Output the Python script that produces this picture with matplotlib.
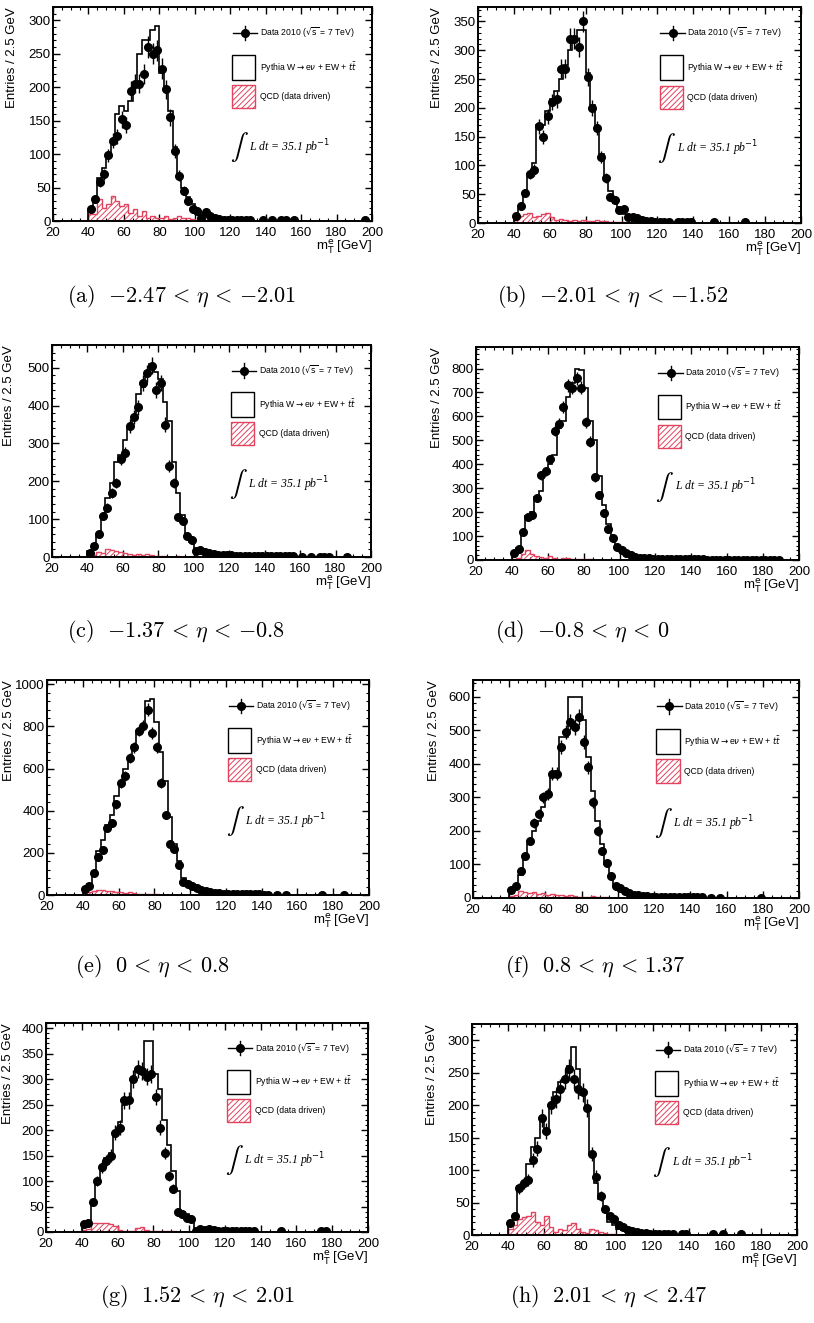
import matplotlib
matplotlib.use('Agg')
import matplotlib.pyplot as plt
from matplotlib.patches import Rectangle
from matplotlib.ticker import MultipleLocator
import numpy as np

plt.rcParams['font.family'] = ['Liberation Sans', 'DejaVu Sans']
plt.rcParams['hatch.linewidth'] = 0.7

# bins of 2.5 GeV starting at 40 GeV (32 bins up to 120 GeV)
bin_lo = 40.0
bin_w = 2.5

# (a) -2.47 < eta < -2.01
mc_a = [15, 35, 65, 80, 100, 120, 160, 172, 165, 180, 200, 250, 270, 270, 285, 292,
        222, 200, 165, 110, 70, 50, 36, 25, 16, 10, 7, 5, 4, 3, 2, 2]
data_a = [18, 33, 58, 70, 98, 120, 127, 152, 143, 195, 205, 205, 220, 260, 250, 255,
          228, 197, 155, 105, 68, 45, 30, 18, 15, 5, 13, 8, 4, 3, 2, 1]
qcd_a = [10, 10, 33, 20, 25, 37, 30, 22, 25, 12, 18, 8, 15, 5, 7, 5,
         5, 8, 3, 5, 8, 5, 4, 3, 2, 1, 1, 0, 0, 0, 0, 0]
tailx_a = [121.25, 123.75, 126.25, 128.75, 131.25, 138.75, 143.75, 148.75, 151.25, 156.25, 196.25]
taily_a = [1, 1, 1, 1, 1, 1, 1, 1, 1, 1, 1]

# (b) -2.01 < eta < -1.52
mc_b = [8, 25, 50, 85, 105, 170, 170, 195, 215, 230, 250, 275, 300, 320, 335, 335,
        260, 205, 165, 120, 80, 55, 35, 25, 16, 10, 7, 5, 4, 3, 2, 2]
data_b = [12, 30, 52, 85, 92, 168, 150, 185, 210, 215, 268, 268, 320, 320, 305, 350,
          253, 200, 165, 115, 78, 45, 40, 22, 25, 10, 10, 8, 5, 3, 3, 2]
qcd_b = [5, 12, 15, 17, 10, 12, 15, 18, 10, 5, 7, 5, 3, 5, 4, 5,
         3, 3, 5, 3, 4, 2, 1, 1, 1, 0, 0, 0, 0, 0, 0, 0]
tailx_b = [121.25, 123.75, 126.25, 131.25, 133.75, 136.25, 138.75, 151.25, 168.75]
taily_b = [2, 2, 1, 1, 1, 1, 1, 1, 1]

# (c) -1.37 < eta < -0.8
mc_c = [15, 35, 60, 110, 155, 195, 250, 270, 310, 345, 365, 430, 450, 490, 510, 490,
        470, 410, 360, 250, 170, 110, 60, 40, 20, 12, 10, 7, 5, 4, 3, 3]
data_c = [10, 30, 62, 108, 130, 170, 195, 258, 275, 345, 370, 395, 460, 485, 505, 440,
          460, 350, 240, 195, 105, 95, 55, 45, 15, 18, 12, 10, 8, 6, 5, 4]
qcd_c = [3, 5, 12, 10, 22, 18, 15, 12, 10, 8, 6, 8, 5, 8, 4, 3,
         2, 2, 1, 1, 2, 1, 1, 0, 0, 0, 0, 0, 0, 0, 0, 0]
tailx_c = [121.25, 123.75, 126.25, 128.75, 131.25, 133.75, 136.25, 138.75, 141.25, 143.75, 146.25,
           148.75, 151.25, 153.75, 156.25, 161.25, 166.25, 171.25, 173.75, 176.25, 186.25]
taily_c = [4, 3, 3, 3, 3, 2, 2, 3, 2, 2, 2, 2, 2, 2, 2, 1, 1, 1, 1, 1, 1]

# (d) -0.8 < eta < 0
mc_d = [30, 50, 120, 185, 200, 265, 290, 360, 400, 440, 550, 580, 680, 740, 800, 795,
        720, 580, 500, 350, 230, 150, 90, 55, 35, 20, 15, 10, 8, 6, 5, 4]
data_d = [30, 45, 115, 180, 190, 260, 355, 370, 420, 540, 570, 640, 730, 720, 760, 720,
          575, 495, 345, 270, 195, 130, 90, 55, 42, 28, 20, 12, 10, 8, 8, 6]
qcd_d = [5, 10, 25, 40, 25, 15, 12, 10, 15, 8, 6, 10, 8, 6, 5, 4,
         3, 3, 2, 2, 2, 1, 1, 1, 0, 0, 0, 0, 0, 0, 0, 0]
tailx_d = [121.25, 123.75, 126.25, 128.75, 131.25, 133.75, 136.25, 138.75, 141.25, 143.75,
           146.25, 148.75, 151.25, 153.75, 156.25, 158.75, 161.25, 163.75, 166.25, 168.75,
           171.25, 173.75, 176.25, 178.75, 181.25, 183.75, 186.25, 188.75]
taily_d = [5, 5, 4, 4, 4, 3, 3, 3, 3, 3, 3, 2, 2, 2, 2, 2, 2, 2, 2, 2, 2, 1, 1, 1, 1, 1, 1, 1]

# (e) 0 < eta < 0.8
mc_e = [30, 50, 110, 210, 260, 330, 380, 470, 520, 600, 650, 710, 780, 800, 920, 930,
        820, 680, 540, 370, 240, 160, 80, 60, 40, 25, 18, 12, 10, 8, 6, 5]
data_e = [30, 45, 105, 180, 215, 320, 340, 430, 530, 565, 650, 700, 780, 800, 880, 770,
          700, 530, 380, 240, 220, 140, 60, 50, 45, 35, 25, 18, 12, 10, 8, 6]
qcd_e = [5, 12, 18, 22, 25, 20, 18, 15, 12, 10, 12, 8, 6, 5, 4, 3,
         3, 2, 2, 2, 1, 1, 1, 0, 0, 0, 0, 0, 0, 0, 0, 0]
tailx_e = [121.25, 123.75, 126.25, 128.75, 131.25, 133.75, 136.25, 138.75, 141.25, 143.75,
           148.75, 153.75, 173.75, 186.25]
taily_e = [5, 4, 4, 3, 3, 3, 3, 3, 2, 2, 2, 2, 1, 1]

# (f) 0.8 < eta < 1.37
mc_f = [15, 30, 70, 120, 160, 200, 230, 270, 300, 360, 380, 480, 480, 600, 600, 600,
        530, 420, 320, 230, 160, 100, 70, 40, 25, 18, 12, 8, 6, 5, 4, 3]
data_f = [25, 35, 80, 125, 170, 225, 250, 300, 310, 370, 370, 450, 495, 525, 510, 540,
          465, 390, 285, 200, 140, 105, 65, 35, 30, 20, 15, 10, 8, 6, 5, 4]
qcd_f = [5, 10, 20, 18, 14, 18, 12, 15, 10, 12, 8, 8, 6, 8, 5, 4,
         3, 3, 5, 3, 2, 2, 1, 1, 0, 0, 0, 0, 0, 0, 0, 0]
tailx_f = [121.25, 123.75, 126.25, 128.75, 131.25, 133.75, 136.25, 138.75, 141.25, 143.75,
           146.25, 151.25, 156.25, 178.75]
taily_f = [4, 3, 3, 3, 3, 2, 2, 2, 2, 2, 2, 1, 1, 1]

# (g) 1.52 < eta < 2.01
mc_g = [15, 18, 55, 100, 130, 145, 155, 190, 215, 250, 260, 295, 320, 310, 375, 375,
        310, 280, 220, 170, 120, 80, 40, 35, 25, 8, 6, 5, 4, 3, 3, 2]
data_g = [15, 18, 58, 100, 128, 140, 150, 195, 205, 258, 258, 300, 320, 315, 305, 310,
          265, 205, 155, 110, 85, 40, 35, 28, 25, 2, 5, 3, 5, 3, 2, 2]
qcd_g = [3, 5, 17, 18, 17, 18, 15, 12, 3, 2, 1, 2, 8, 10, 3, 2,
         2, 1, 1, 1, 1, 0, 0, 0, 0, 0, 0, 0, 0, 0, 0, 0]
tailx_g = [121.25, 123.75, 126.25, 128.75, 131.25, 133.75, 136.25, 151.25, 173.75, 176.25]
taily_g = [2, 2, 2, 2, 1, 1, 1, 1, 1, 1]

# (h) 2.01 < eta < 2.47
mc_h = [18, 30, 75, 80, 110, 135, 150, 180, 160, 195, 220, 235, 235, 260, 290, 255,
        215, 195, 125, 80, 55, 35, 20, 15, 10, 7, 5, 4, 3, 2, 2, 1]
data_h = [18, 30, 72, 80, 85, 115, 133, 180, 160, 200, 210, 225, 240, 255, 240, 225,
          220, 195, 125, 90, 60, 40, 30, 25, 15, 12, 8, 6, 5, 3, 3, 2]
qcd_h = [10, 15, 25, 28, 30, 35, 20, 15, 30, 12, 5, 10, 8, 15, 18, 10,
         5, 3, 10, 8, 5, 3, 1, 1, 0, 0, 0, 0, 0, 0, 0, 0]
tailx_h = [121.25, 123.75, 126.25, 128.75, 131.25, 136.25, 138.75, 153.75, 158.75, 168.75]
taily_h = [2, 2, 1, 1, 1, 1, 1, 1, 1, 1]

labels = ['(a)', '(b)', '(c)', '(d)', '(e)', '(f)', '(g)', '(h)']
ranges = [r'{-}2.47 \,<\, \eta \,<\, {-}2.01', r'{-}2.01 \,<\, \eta \,<\, {-}1.52',
          r'{-}1.37 \,<\, \eta \,<\, {-}0.8', r'{-}0.8 \,<\, \eta \,<\, 0',
          r'0 \,<\, \eta \,<\, 0.8', r'0.8 \,<\, \eta \,<\, 1.37',
          r'1.52 \,<\, \eta \,<\, 2.01', r'2.01 \,<\, \eta \,<\, 2.47']
ymax = [320, 375, 560, 890, 1020, 650, 410, 325]
ymajor = [50, 50, 100, 100, 200, 100, 50, 50]

panels = [(mc_a, data_a, qcd_a, tailx_a, taily_a), (mc_b, data_b, qcd_b, tailx_b, taily_b),
          (mc_c, data_c, qcd_c, tailx_c, taily_c), (mc_d, data_d, qcd_d, tailx_d, taily_d),
          (mc_e, data_e, qcd_e, tailx_e, taily_e), (mc_f, data_f, qcd_f, tailx_f, taily_f),
          (mc_g, data_g, qcd_g, tailx_g, taily_g), (mc_h, data_h, qcd_h, tailx_h, taily_h)]

W, H = 814, 1323
# axes frames in pixels: left, top, right, bottom
frames = [(53, 7, 372, 221), (478, 7, 801, 223),
          (52, 345, 371, 557), (476, 347, 799, 560),
          (47, 680, 369, 895), (473, 680, 799, 898),
          (46, 1023, 368, 1232), (472, 1024, 797, 1235)]
ylab_x = [18, 443, 15, 443, 15, 440, 14, 438]
cap_pos = [(67, 297), (497, 297), (67, 631), (495, 631),
           (75, 967), (505, 967), (100, 1297), (510, 1297)]

red = '#e2435f'

fig = plt.figure(figsize=(W / 100, H / 100), dpi=100)

for i in range(8):
    mc, data, qcd, tx, ty = panels[i]
    l, t, r, b = frames[i]
    ax = fig.add_axes([l / W, 1 - b / H, (r - l) / W, (b - t) / H])
    n = len(mc)
    edges = bin_lo + bin_w * np.arange(n + 1)
    centers = edges[:-1] + bin_w / 2

    # QCD drawn over the full x range so the red baseline runs across
    full_edges = np.arange(20, 200.01, bin_w)
    qcd_full = np.zeros(len(full_edges) - 1)
    start = int((bin_lo - 20) / bin_w)
    qcd_full[start:start + n] = qcd
    ax.stairs(qcd_full, full_edges, fill=True, facecolor='none', edgecolor=red,
              hatch='//////', linewidth=1.0, zorder=2)
    ax.stairs(mc, edges, color='black', linewidth=1.2, baseline=None, zorder=3)
    ax.plot([edges[0], edges[0]], [0, mc[0]], color='black', lw=1.2, zorder=3)

    dx = np.concatenate([centers, tx])
    dy = np.concatenate([np.array(data, float), np.array(ty, float)])
    ax.errorbar(dx, dy, yerr=np.sqrt(dy), xerr=bin_w / 2, fmt='o', color='black',
                ms=5.5, elinewidth=1.0, capsize=0, zorder=4)

    ax.set_xlim(20, 200)
    ax.set_ylim(0, ymax[i])
    ax.xaxis.set_major_locator(MultipleLocator(20))
    ax.xaxis.set_minor_locator(MultipleLocator(5))
    ax.yaxis.set_major_locator(MultipleLocator(ymajor[i]))
    ax.yaxis.set_minor_locator(MultipleLocator(ymajor[i] / 5))
    ax.tick_params(which='both', direction='in', top=True, right=True, labelsize=9.5)
    ax.tick_params(axis='y', pad=1.5)
    ax.tick_params(axis='x', pad=4)
    ax.tick_params(which='major', length=5, width=1)
    ax.tick_params(which='minor', length=2.5, width=0.8)
    for s in ax.spines.values():
        s.set_linewidth(1.4)

    ax.set_ylabel('Entries / 2.5 GeV', loc='top', fontsize=9.5)
    ax.yaxis.set_label_coords((ylab_x[i] - l) / (r - l), 1.0)
    ax.set_xlabel(r'm$_\mathrm{T}^\mathrm{e}$ [GeV]', loc='right', fontsize=9.5, labelpad=0)

    # legend drawn by hand, ROOT style
    ax.plot([0.565, 0.64], [0.879, 0.879], color='black', lw=1.0, transform=ax.transAxes)
    ax.plot([0.6025, 0.6025], [0.845, 0.913], color='black', lw=1.0, transform=ax.transAxes)
    ax.plot([0.6025], [0.879], 'o', color='black', ms=5.5, transform=ax.transAxes)
    ax.text(0.648, 0.879, r'Data 2010 ($\sqrt{\mathrm{s}}$ = 7 TeV)', fontsize=6.2,
            va='center', transform=ax.transAxes)
    ax.add_patch(Rectangle((0.562, 0.66), 0.072, 0.116, facecolor='white', edgecolor='black',
                           lw=1.0, transform=ax.transAxes))
    ax.text(0.648, 0.718, r'Pythia W$\rightarrow$e$\nu$ + EW + $t\bar{t}$', fontsize=6.2,
            va='center', transform=ax.transAxes)
    ax.add_patch(Rectangle((0.562, 0.528), 0.072, 0.108, facecolor='none', edgecolor=red,
                           hatch='//////', lw=1.0, transform=ax.transAxes))
    ax.text(0.648, 0.582, 'QCD (data driven)', fontsize=6.2, va='center', transform=ax.transAxes)
    ax.text(0.555, 0.345, r'$\int$', fontsize=19, va='center', math_fontfamily='stix',
            transform=ax.transAxes)
    ax.text(0.615, 0.345, r'L dt = 35.1 pb$^{-1}$', fontsize=8.5, va='center',
            family='Liberation Serif', style='italic', transform=ax.transAxes)

    fig.text(cap_pos[i][0] / W, 1 - cap_pos[i][1] / H,
             r'$\mathrm{' + labels[i] + r'}\ \ ' + ranges[i] + '$', fontsize=16,
             ha='left', va='center', math_fontfamily='cm')

fig.savefig('out.png', dpi=100)
